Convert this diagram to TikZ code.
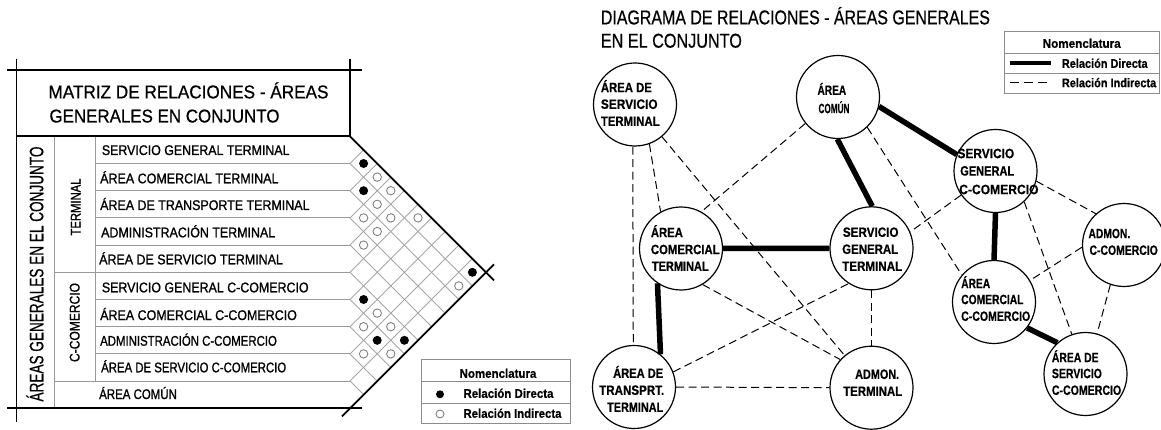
\documentclass[tikz,border=0pt]{standalone}
\usepackage{fontspec}
\setmainfont{Liberation Sans}
\newfontfamily\medfont{Liberation Sans}[FakeBold=1.2]
\newfontfamily\semfont{Liberation Sans}[FakeBold=0.7]
\newfontfamily\hvfont{Liberation Sans Bold}[FakeBold=0.6]
\usepackage{graphicx}
\newcommand{\fw}[2]{\resizebox{#1pt}{\height}{#2}}
\newcommand{\tline}[6]{\node[#1] (#2) at (#3,#4) {\fw{#5}{#6}};}
\begin{document}
\begin{tikzpicture}[x=1pt,y=-1pt,
  thickln/.style={line width=1.8pt, black},
  gridln/.style={line width=0.9pt, black!35},
  rowln/.style={line width=0.9pt, black!40},
  mtext/.style={font=\medfont\fontsize{14}{14}\selectfont, anchor=west, inner sep=0pt, text height=10pt, text depth=0pt},
  ttext/.style={font=\semfont\fontsize{18.5}{18.5}\selectfont, anchor=west, inner sep=0pt, text height=13.3pt, text depth=0pt},
  rtext/.style={font=\semfont\fontsize{20}{20}\selectfont, anchor=west, inner sep=0pt, text height=14.3pt, text depth=0pt},
  sbig/.style={font=\semfont\fontsize{19.5}{19.5}\selectfont, rotate=90, inner sep=0pt, text height=14pt, text depth=0pt},
  ssmall/.style={font=\medfont\fontsize{14}{14}\selectfont, rotate=90, inner sep=0pt, text height=10pt, text depth=0pt},
  ctext/.style={font=\hvfont\fontsize{13.5}{13.5}\selectfont, anchor=west, inner sep=0pt, text height=9.7pt, text depth=0pt},
  ltext/.style={font=\hvfont\fontsize{12.5}{12.5}\selectfont, anchor=west, inner sep=0pt, text height=9pt, text depth=0pt},
  lhead/.style={ltext, anchor=center},
  circ/.style={circle, draw, line width=1.2pt, minimum size=83pt, inner sep=0pt, fill=white},
  direct/.style={line width=5.5pt},
  indirect/.style={line width=1pt, dash pattern=on 8pt off 4.5pt},
  odot/.style={draw=black!50, line width=0.9pt},
  legbox/.style={draw=black!45, line width=1pt}
]
\useasboundingbox (0,0) rectangle (1161,430);

% ---------------- MATRIX ----------------
% diamond grid
\foreach \k in {1,...,9} {
  \draw[gridln] (350,{136.3+27.2*\k}) -- ({350+13.6*\k},{136.3+13.6*\k});
  \draw[gridln] (350,{136.3+27.2*\k}) -- ({486-13.6*\k},{272.3+13.6*\k});
}
% row separators
\foreach \k in {1,2,3,4,6,7,8} \draw[rowln] (95,{136.3+27.2*\k}) -- (350,{136.3+27.2*\k});
\foreach \k in {5,9} \draw[rowln] (54,{136.3+27.2*\k}) -- (350,{136.3+27.2*\k});
\draw[rowln] (54,136.3) -- (54,408.3);
\draw[rowln] (95,136.3) -- (95,381.1);
% outer lines
\draw[thickln] (7,70) -- (362,70);
\draw[thickln] (16.5,59) -- (16.5,422);
\draw[thickln] (350,59) -- (350,136.3);
\draw[thickln] (16.5,136.3) -- (350,136.3);
\draw[thickln] (350,136.3) -- (494,280.3);
\draw[thickln] (7,408.3) -- (362,408.3);
\draw[thickln] (342,416.3) -- (494,264.3);
% dots
\foreach \i/\j in {1/2,2/3,1/10,6/7,7/9,6/10}
  \fill ({350+13.6*(\j-\i)},{136.3+13.6*(\i+\j-1)}) circle (4.5pt);
\foreach \i/\j in {1/3,1/4,2/4,3/4,2/5,1/6,3/5,4/5,2/10,6/8,7/8,6/9,8/9,7/10}
  \draw[odot] ({350+13.6*(\j-\i)},{136.3+13.6*(\i+\j-1)}) circle (4.2pt);
% titles
\tline{ttext}{mt1}{48.3}{91.7}{280}{MATRIZ DE RELACIONES - ÁREAS}
\tline{ttext}{mt2}{49.3}{115.8}{230}{GENERALES EN CONJUNTO}
\node[sbig] (sb1) at (36.3,274) {\fw{255}{ÁREAS GENERALES EN EL CONJUNTO}};
\node[ssmall] (sb2) at (75.5,207) {\fw{57}{TERMINAL}};
\node[ssmall] (sb3) at (74.5,322.5) {\fw{79}{C-COMERCIO}};
% row labels
\tline{mtext}{r1}{101.7}{150}{187.6}{SERVICIO GENERAL TERMINAL}
\tline{mtext}{r2}{100}{178.3}{178.3}{ÁREA COMERCIAL TERMINAL}
\tline{mtext}{r3}{100}{205}{209.3}{ÁREA DE TRANSPORTE TERMINAL}
\tline{mtext}{r4}{101}{232.3}{174}{ADMINISTRACIÓN TERMINAL}
\tline{mtext}{r5}{99}{259.3}{183.7}{ÁREA DE SERVICIO TERMINAL}
\tline{mtext}{r6}{101.7}{287.3}{206.7}{SERVICIO GENERAL C-COMERCIO}
\tline{mtext}{r7}{100}{315}{196.7}{ÁREA COMERCIAL C-COMERCIO}
\tline{mtext}{r8}{100}{340.7}{176.7}{ADMINISTRACIÓN C-COMERCIO}
\tline{mtext}{r9}{101}{367.3}{185}{ÁREA DE SERVICIO C-COMERCIO}
\tline{mtext}{r10}{99}{394}{77.7}{ÁREA COMÚN}
% left legend
\draw[legbox] (421.7,359.3) rectangle (570,423);
\draw[legbox] (421.7,381.7) -- (570,381.7);
\draw[legbox] (421.7,403.3) -- (570,403.3);
\node[lhead] (ln1) at (498,373.3) {\fw{76.7}{Nomenclatura}};
\fill (440,394.3) circle (4pt);
\draw[odot] (440,414) circle (4pt);
\tline{ltext}{ln2}{463.3}{393.3}{90}{Relación Directa}
\tline{ltext}{ln3}{463.3}{413.3}{98}{Relación Indirecta}

% ---------------- DIAGRAM ----------------
\tline{rtext}{dt1}{600.7}{17.2}{389}{DIAGRAMA DE RELACIONES - ÁREAS GENERALES}
\tline{rtext}{dt2}{600.7}{40.5}{141}{EN EL CONJUNTO}
% right legend
\draw[legbox] (1004,31.7) rectangle (1159.5,93.3);
\draw[legbox] (1004,54) -- (1159.5,54);
\draw[legbox] (1004,73.3) -- (1159.5,73.3);
\node[lhead] (rn1) at (1081.7,43.3) {\fw{78}{Nomenclatura}};
\draw[line width=4pt] (1010,63.3) -- (1051,63.3);
\draw[line width=1pt, dash pattern=on 9pt off 5pt] (1010,82.7) -- (1051,82.7);
\tline{ltext}{rn2}{1061.7}{63.3}{85.7}{Relación Directa}
\tline{ltext}{rn3}{1061.7}{82.7}{94.3}{Relación Indirecta}

% circles
\node[circ] (ast) at (635,104.5) {};
\node[circ] (com) at (838,97) {};
\node[circ] (sgc) at (995.5,171) {};
\node[circ] (adc) at (1124,245) {};
\node[circ] (acc) at (994,302) {};
\node[circ] (asc) at (1085.5,374) {};
\node[circ] (act) at (681,248.5) {};
\node[circ] (sgt) at (871.5,248.3) {};
\node[circ] (att) at (634,387) {};
\node[circ] (adt) at (871.5,387.7) {};

% direct relations
\draw[direct] (com.-13) -- (sgc.157);
\draw[direct] (com.-91) -- (sgt.89);
\draw[direct] (act.0) -- (sgt.180);
\draw[direct] (act.-124) -- (att.51);
\draw[direct] (sgc.-90) -- (acc.90);
\draw[direct] (acc.-38) -- (asc.132);
% indirect relations
\draw[indirect] (ast.-93) -- (att.91);
\draw[indirect] (ast.-70) -- (act.119);
\draw[indirect] (ast) -- (adt);
\draw[indirect] (com.-141) -- (act.61);
\draw[indirect] (com.-46) -- (acc.140);
\draw[indirect] (sgc.-145) -- (sgt.23);
\draw[indirect] (sgc.-14) -- (adc.132);
\draw[indirect] (sgc.-47) -- (asc.109);
\draw[indirect] (adc.183) -- (acc.31);
\draw[indirect] (adc.-109) -- (asc.74);
\draw[indirect] (act.-59) -- (adt.138);
\draw[indirect] (att.21) -- (sgt.-123);
\draw[indirect] (att.0) -- (adt.180);
\draw[indirect] (sgt.-90) -- (adt.90);

% circle texts
\tline{ctext}{ast1}{600.7}{87.3}{51}{ÁREA DE}
\tline{ctext}{ast2}{600.7}{104}{56.7}{SERVICIO}
\tline{ctext}{ast3}{600.7}{121}{58.7}{TERMINAL}
\tline{ctext}{com1}{817.3}{90}{28.7}{ÁREA}
\tline{ctext}{com2}{818.3}{108.3}{31}{COMÚN}
\tline{ctext}{sgc1}{957.3}{153.3}{56.7}{SERVICIO}
\tline{ctext}{sgc2}{960}{170.7}{54}{GENERAL}
\tline{ctext}{sgc3}{959}{189.3}{79.3}{C-COMERCIO}
\tline{ctext}{adc1}{1088.3}{233.3}{41.7}{ADMON.}
\tline{ctext}{adc2}{1089.3}{250}{68.3}{C-COMERCIO}
\tline{ctext}{acc1}{961}{283.3}{29}{ÁREA}
\tline{ctext}{acc2}{961}{299.3}{62.3}{COMERCIAL}
\tline{ctext}{acc3}{961}{316}{69}{C-COMERCIO}
\tline{ctext}{asc1}{1051.7}{357.3}{46.7}{ÁREA DE}
\tline{ctext}{asc2}{1051.7}{373.3}{50}{SERVICIO}
\tline{ctext}{asc3}{1051.7}{390}{69.3}{C-COMERCIO}
\tline{ctext}{act1}{650.7}{232.3}{32}{ÁREA}
\tline{ctext}{act2}{650.7}{249.3}{68.7}{COMERCIAL}
\tline{ctext}{act3}{651.7}{266}{56.7}{TERMINAL}
\tline{ctext}{sgt1}{842.7}{232}{55.6}{SERVICIO}
\tline{ctext}{sgt2}{842}{249}{56}{GENERAL}
\tline{ctext}{sgt3}{842}{266}{60}{TERMINAL}
\tline{ctext}{att1}{613}{373}{50}{ÁREA DE}
\tline{ctext}{att2}{599}{390}{65}{TRANSPRT.}
\tline{ctext}{att3}{607}{407}{56}{TERMINAL}
\tline{ctext}{adt1}{855}{374}{44}{ADMON.}
\tline{ctext}{adt2}{843}{391}{59}{TERMINAL}
\end{tikzpicture}
\end{document}
